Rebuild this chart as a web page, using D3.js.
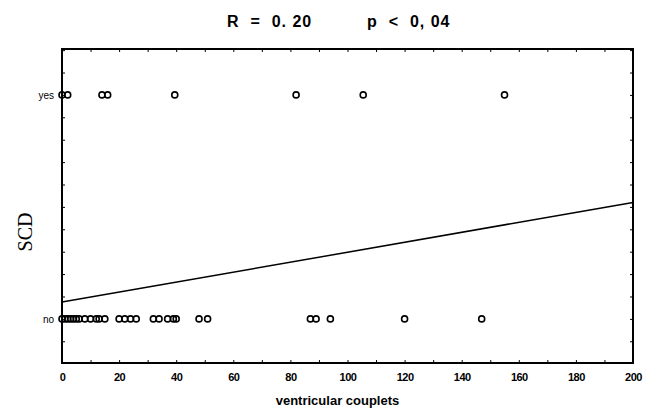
<!DOCTYPE html>
<html>
<head>
<meta charset="utf-8">
<script src="https://cdn.jsdelivr.net/npm/d3@7"></script>
<style>
  body { margin: 0; background: #fff; }
  svg { display: block; }
</style>
</head>
<body>
<div class="canvas"></div>
<script>
// data
const noValues = [0, 1, 2, 3, 4, 5, 6, 8, 10, 12, 13, 15, 20, 22, 24, 26, 32, 34, 37, 39, 40, 48, 51, 87, 89, 94, 120, 147];
const yesValues = [0, 2, 14, 16, 39.5, 82, 105.5, 155];
const categories = ["no", "yes"];
const xTicks = [0, 20, 40, 60, 80, 100, 120, 140, 160, 180, 200];
const fitX = [0, 200];
const fitY = [0.075, 0.52];

const width = 645;
const height = 411;
const margin = { top: 49, right: 12, bottom: 48, left: 62 };
const graphWidth = width - margin.left - margin.right;
const graphHeight = height - margin.top - margin.bottom;

const svg = d3
  .select(".canvas")
  .append("svg")
  .attr("width", width)
  .attr("height", height);

const graph = svg
  .append("g")
  .attr("transform", `translate(${margin.left}, ${margin.top})`);

// scales
const x = d3.scaleLinear().domain([0, 200]).range([0, graphWidth]);
const y = d3.scaleLinear().domain([-0.197, 1.205]).range([graphHeight, 0]);

// minor ticks inside the frame
const minor = d3.range(0, 201, 10);
graph.append("g")
  .attr("transform", `translate(0, ${graphHeight})`)
  .call(d3.axisBottom(x).tickValues(minor).tickSize(-3).tickFormat(""))
  .call(g => g.select(".domain").remove())
  .selectAll("line").attr("stroke", "#000");

graph.append("g")
  .call(d3.axisTop(x).tickValues(minor).tickSize(-3).tickFormat(""))
  .call(g => g.select(".domain").remove())
  .selectAll("line").attr("stroke", "#000");

graph.append("g")
  .call(d3.axisLeft(y).tickValues(d3.range(-0.1, 1.21, 0.1)).tickSize(-3).tickFormat(""))
  .call(g => g.select(".domain").remove())
  .selectAll("line").attr("stroke", "#000");

graph.append("g")
  .attr("transform", `translate(${graphWidth}, 0)`)
  .call(d3.axisRight(y).tickValues(d3.range(-0.1, 1.21, 0.1)).tickSize(-3).tickFormat(""))
  .call(g => g.select(".domain").remove())
  .selectAll("line").attr("stroke", "#000");

// x tick labels
const xAxis = d3.axisBottom(x).tickValues(xTicks).tickSize(0).tickPadding(10);
const xAxisGroup = graph.append("g")
  .attr("transform", `translate(0, ${graphHeight})`)
  .call(xAxis);
xAxisGroup.select(".domain").remove();
xAxisGroup.selectAll("text")
  .attr("font-family", "Liberation Sans Narrow, Arial Narrow, Liberation Sans, sans-serif")
  .attr("font-size", 11)
  .attr("font-weight", "bold")
  .attr("letter-spacing", "-0.5")
  .attr("fill", "#000");

// y tick labels
const yAxis = d3.axisLeft(y).tickValues([0, 1]).tickSize(0).tickPadding(8)
  .tickFormat(d => categories[d]);
const yAxisGroup = graph.append("g").call(yAxis);
yAxisGroup.select(".domain").remove();
yAxisGroup.selectAll("text")
  .attr("font-family", "Liberation Sans, Arial, sans-serif")
  .attr("font-size", 10)
  .attr("fill", "#000");

// regression line
const line = d3.line()
  .x(d => x(d[0]))
  .y(d => y(d[1]));

graph.append("path")
  .datum(fitX.map((v, i) => [v, fitY[i]]))
  .attr("fill", "none")
  .attr("stroke", "#000")
  .attr("stroke-width", 1.5)
  .attr("d", line);

// points
const points = noValues.map(v => ({ x: v, y: 0 }))
  .concat(yesValues.map(v => ({ x: v, y: 1 })));

graph.selectAll("circle")
  .data(points)
  .enter()
  .append("circle")
  .attr("cx", d => x(d.x))
  .attr("cy", d => y(d.y))
  .attr("r", 3)
  .attr("fill", "none")
  .attr("stroke", "#000")
  .attr("stroke-width", 1.6);

// frame
graph.append("rect")
  .attr("width", graphWidth)
  .attr("height", graphHeight)
  .attr("fill", "none")
  .attr("stroke", "#000")
  .attr("stroke-width", 2);

// title
const title = svg.append("g")
  .attr("font-family", "Liberation Sans, Arial, sans-serif")
  .attr("font-size", 16)
  .attr("font-weight", "bold")
  .attr("letter-spacing", "1")
  .attr("fill", "#000");

title.append("text")
  .attr("x", 227)
  .attr("y", 27)
  .attr("xml:space", "preserve")
  .text("R  =  0. 20");

title.append("text")
  .attr("x", 367)
  .attr("y", 27)
  .attr("xml:space", "preserve")
  .text("p  <  0, 04");

// axis titles
svg.append("text")
  .attr("x", margin.left + graphWidth / 2 - 10)
  .attr("y", 405)
  .attr("text-anchor", "middle")
  .attr("font-family", "Liberation Sans, Arial, sans-serif")
  .attr("font-size", 13)
  .attr("font-weight", "bold")
  .attr("fill", "#000")
  .text("ventricular couplets");

svg.append("text")
  .attr("transform", "translate(32, 232) rotate(-90)")
  .attr("text-anchor", "middle")
  .attr("font-family", "Liberation Serif, Times New Roman, serif")
  .attr("font-size", 20)
  .attr("fill", "#000")
  .text("SCD");
</script>
</body>
</html>
